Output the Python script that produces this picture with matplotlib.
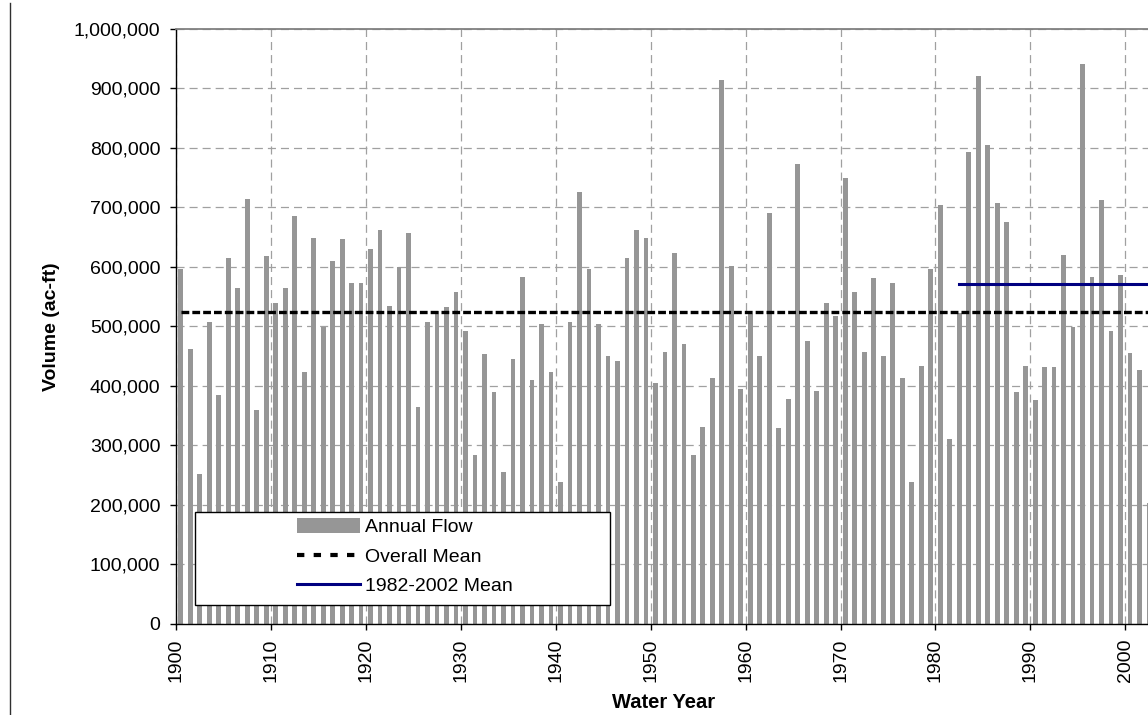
import matplotlib
matplotlib.use("Agg")
import matplotlib.pyplot as plt
from matplotlib.patches import Patch, Rectangle
from matplotlib.lines import Line2D
import numpy as np

plt.rcParams["font.family"] = ["Liberation Sans", "DejaVu Sans"]
plt.rcParams["lines.scale_dashes"] = False

# ---------------- data ----------------
years = list(range(1900, 2003))
annual_flow = [
    597000, 462000, 252000, 507000, 385000, 615000, 564000, 714000, 360000, 619000,   # 1900s
    540000, 564000, 685000, 424000, 648000, 499000, 610000, 646000, 573000, 573000,   # 1910s
    630000, 662000, 535000, 600000, 657000, 365000, 507000, 525000, 532000, 558000,   # 1920s
    492000, 284000, 453000, 390000, 256000, 445000, 583000, 410000, 504000, 424000,   # 1930s
    239000, 507000, 726000, 597000, 504000, 450000, 442000, 615000, 662000, 648000,   # 1940s
    405000, 457000, 624000, 470000, 284000, 331000, 414000, 913000, 602000, 395000,   # 1950s
    521000, 450000, 690000, 329000, 378000, 772000, 475000, 392000, 540000, 518000,   # 1960s
    749000, 558000, 457000, 581000, 450000, 573000, 414000, 239000, 433000, 597000,   # 1970s
    704000, 310000, 523000, 793000, 920000, 805000, 707000, 675000, 390000, 433000,   # 1980s
    377000, 431000, 431000, 620000, 499000, 941000, 583000, 712000, 492000, 586000,   # 1990s
    455000, 426000, 204000,                                                           # 2000s
]
recent_start, recent_end = 1982, 2002
tick_years = list(range(1900, 2001, 10))
y_ticks = list(range(0, 1_000_001, 100_000))
series_labels = ["Annual Flow", "Overall Mean", "1982-2002 Mean"]

yrs = np.array(years)
flow = np.array(annual_flow, dtype=float)
overall_mean = flow.mean()
recent_mask = (yrs >= recent_start) & (yrs <= recent_end)
recent_mean = flow[recent_mask].mean()

# ---------------- figure ----------------
W, H = 1148, 715
fig = plt.figure(figsize=(W / 100, H / 100), dpi=100)
fig.patch.set_facecolor("white")

ax_left, ax_right, ax_top, ax_bottom = 176, 1153.8, 28.7, 624
ax = fig.add_axes([ax_left / W, 1 - ax_bottom / H,
                   (ax_right - ax_left) / W, (ax_bottom - ax_top) / H])

BAR_GRAY = "#969696"
ax.bar(yrs + 0.5, flow, width=0.5, color=BAR_GRAY, zorder=2, linewidth=0)

# mean lines (from centre of first category to centre of last)
ax.plot([yrs[0] + 0.5, yrs[-1] + 0.5], [overall_mean, overall_mean],
        color="black", lw=2.4, dashes=(5.6, 2.2), zorder=3, dash_capstyle="butt")
ax.plot([recent_start + 0.5, recent_end + 0.5], [recent_mean, recent_mean],
        color="#000080", lw=2.2, zorder=3)

ax.set_xlim(1900, 2003)
ax.set_ylim(0, 1_000_000)

ax.set_xticks(tick_years)
ax.set_xticklabels([str(y) for y in tick_years], rotation=90)
ax.set_yticks(y_ticks)
ax.set_yticklabels([f"{v:,}" for v in y_ticks])

ax.tick_params(axis="both", direction="out", length=4.3, width=1, color="black",
               labelsize=14, labelcolor="black")
ax.tick_params(axis="y", pad=7.0)
ax.tick_params(axis="x", pad=6.5)

ax.set_axisbelow(True)
ax.grid(True, color="#a0a0a0", lw=0.9, dashes=(5.8, 3.6))

for side in ("left", "bottom"):
    ax.spines[side].set_color("black")
    ax.spines[side].set_linewidth(1.0)
ax.spines["top"].set_color("#808080")
ax.spines["top"].set_linewidth(1.3)
ax.spines["right"].set_visible(False)

# axis titles
fig.text(51 / W, 1 - 326.5 / H, "Volume (ac-ft)", rotation=90, ha="center", va="center",
         fontsize=14, fontweight="bold")
fig.text(664 / W, 1 - 703 / H, "Water Year", ha="center", va="center",
         fontsize=14.5, fontweight="bold")

# legend box + legend
box = Rectangle((195 / W, 1 - 605 / H), (610 - 195) / W, (605 - 512) / H,
                transform=fig.transFigure, facecolor="white", edgecolor="black",
                lw=1.0, zorder=6)
ax.add_patch(box)
box.set_clip_on(False)

handles = [
    Patch(facecolor=BAR_GRAY, edgecolor="none"),
    Line2D([], [], color="black", lw=3.0, dashes=(5.3, 6.7), dash_capstyle="butt"),
    Line2D([], [], color="#000080", lw=2.2),
]
leg = ax.legend(handles, series_labels, loc="center",
                bbox_to_anchor=(405 / W, 1 - 556.5 / H), bbox_transform=fig.transFigure,
                frameon=False, fontsize=14, handlelength=3.25, handleheight=0.78,
                handletextpad=0.26, labelspacing=0.58, borderpad=0.0)
leg.set_zorder(7)

# thin vertical border line at the far left of the image
fig.add_artist(Line2D([9.5 / W, 9.5 / W], [0, 1 - 3 / H], transform=fig.transFigure,
                      color="#303030", lw=1.0))

fig.savefig("out.png", dpi=100)
